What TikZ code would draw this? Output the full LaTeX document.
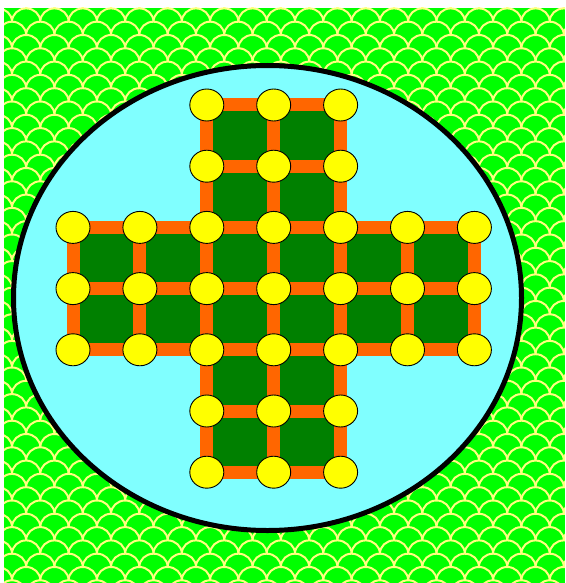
\documentclass[tikz,border=0pt]{standalone}
\usetikzlibrary{shapes.geometric}
\definecolor{bggreen}{HTML}{00FF00}
\definecolor{scaleline}{HTML}{FFFF80}
\definecolor{pool}{HTML}{80FFFF}
\definecolor{board}{HTML}{008000}
\definecolor{bar}{HTML}{FF6600}
\definecolor{pegyellow}{HTML}{FFFF00}
\tikzset{
  scalearc/.style={draw=scaleline, line width=2},
  barline/.style={draw=bar, line width=13},
  pegnode/.style={ellipse, draw=black, line width=0.9, fill=pegyellow,
    minimum width=34, minimum height=32, inner sep=0},
  poolshape/.style={fill=pool, draw=black, line width=5}
}
\begin{document}
\begin{tikzpicture}[x=1pt,y=-1pt]
\useasboundingbox (0,0) rectangle (565,583);
\fill[white] (0,0) rectangle (565,583);
\begin{scope}
  \clip (4,8) rectangle (565,583);
  \fill[bggreen] (4,8) rectangle (565,583);
  \foreach \r in {0,...,46} {
    \pgfmathsetmacro{\ya}{21.7+13.3*(\r-2)}
    \pgfmathsetmacro{\yb}{\ya+13.3}
    \pgfmathsetmacro{\ym}{\ya+13.3*0.4477}
    \pgfmathsetmacro{\xo}{12+14.15*mod(\r,2)}
    \foreach \k in {-1,...,20} {
      \pgfmathsetmacro{\xa}{\xo+28.3*\k}
      \draw[scalearc] ({\xa-14.15},\yb) .. controls ({\xa-14.15},\ym) and ({\xa-7.815},\ya) .. (\xa,\ya)
        .. controls ({\xa+7.815},\ya) and ({\xa+14.15},\ym) .. ({\xa+14.15},\yb);
    }
  }
\end{scope}
\draw[poolshape] (267.5,298) ellipse [x radius=254, y radius=232.5];
\foreach \i in {0,...,6} {
  \foreach \j in {0,...,6} {
    \coordinate (p-\i-\j) at ({73+66.9*\i},{105+61.2*\j});
  }
}
\fill[board] (p-2-0) -- (p-4-0) -- (p-4-2) -- (p-6-2) -- (p-6-4) -- (p-4-4) -- (p-4-6) -- (p-2-6) -- (p-2-4) -- (p-0-4) -- (p-0-2) -- (p-2-2) -- cycle;
\foreach \j in {0,1,5,6} \draw[barline] (p-2-\j) -- (p-4-\j);
\foreach \j in {2,3,4} \draw[barline] (p-0-\j) -- (p-6-\j);
\foreach \i in {0,1,5,6} \draw[barline] (p-\i-2) -- (p-\i-4);
\foreach \i in {2,3,4} \draw[barline] (p-\i-0) -- (p-\i-6);
\foreach \j in {0,1,5,6} {
  \foreach \i in {2,3,4} {
    \node[pegnode] (v-\i-\j) at (p-\i-\j) {};
  }
}
\foreach \j in {2,3,4} {
  \foreach \i in {0,...,6} {
    \node[pegnode] (v-\i-\j) at (p-\i-\j) {};
  }
}
\end{tikzpicture}
\end{document}
